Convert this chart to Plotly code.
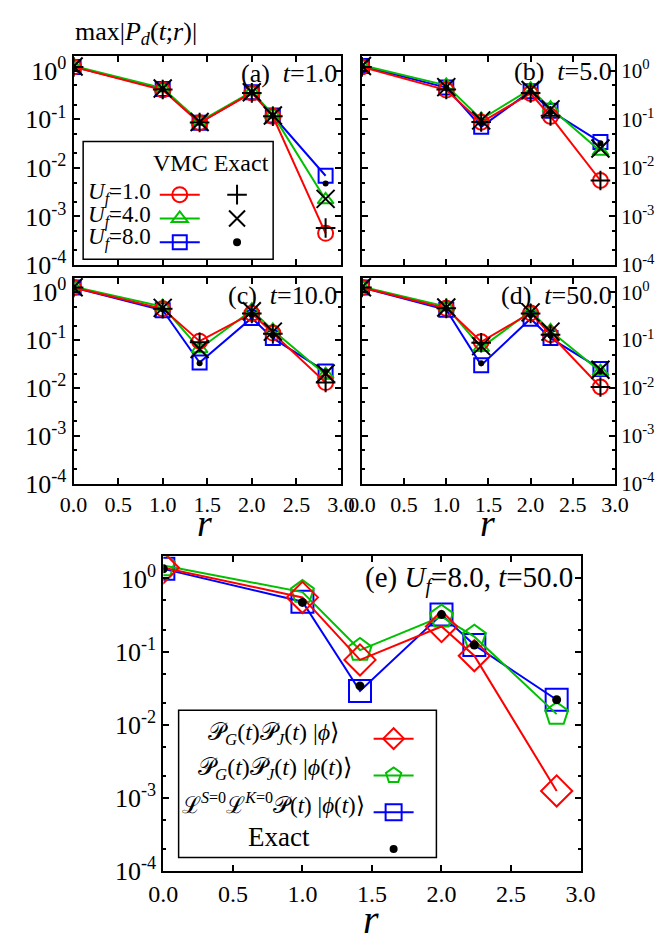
import plotly.graph_objects as go

# distances r
r = [0.0, 1.0, 1.414, 2.0, 2.236, 2.828]

# (a) t=1.0
a_vmc_u1 = [1.2, 0.40, 0.085, 0.35, 0.115, 0.00045]
a_vmc_u4 = [1.25, 0.44, 0.09, 0.37, 0.125, 0.0022]
a_vmc_u8 = [1.2, 0.42, 0.085, 0.36, 0.12, 0.0069]
a_ex_u1 = [1.2, 0.41, 0.086, 0.35, 0.116, 0.00058]
a_ex_u4 = [1.22, 0.43, 0.088, 0.36, 0.12, 0.0023]
a_ex_u8 = [1.2, 0.42, 0.086, 0.36, 0.12, 0.0048]
# (b) t=5.0
b_vmc_u1 = [1.2, 0.40, 0.087, 0.34, 0.115, 0.0055]
b_vmc_u4 = [1.3, 0.50, 0.10, 0.42, 0.17, 0.022]
b_vmc_u8 = [1.25, 0.45, 0.07, 0.38, 0.15, 0.034]
b_ex_u1 = [1.2, 0.41, 0.088, 0.35, 0.118, 0.0055]
b_ex_u4 = [1.25, 0.46, 0.095, 0.40, 0.16, 0.025]
b_ex_u8 = [1.22, 0.44, 0.085, 0.37, 0.14, 0.032]
# (c) t=10.0
c_vmc_u1 = [1.25, 0.45, 0.095, 0.36, 0.14, 0.013]
c_vmc_u4 = [1.3, 0.50, 0.066, 0.42, 0.16, 0.019]
c_vmc_u8 = [1.25, 0.42, 0.034, 0.29, 0.11, 0.022]
c_ex_u1 = [1.25, 0.45, 0.09, 0.36, 0.135, 0.013]
c_ex_u4 = [1.27, 0.47, 0.065, 0.40, 0.15, 0.020]
c_ex_u8 = [1.25, 0.44, 0.033, 0.33, 0.125, 0.022]
# (d) t=50.0
d_vmc_u1 = [1.25, 0.46, 0.092, 0.37, 0.13, 0.0105]
d_vmc_u4 = [1.3, 0.50, 0.07, 0.40, 0.155, 0.022]
d_vmc_u8 = [1.25, 0.43, 0.030, 0.28, 0.11, 0.025]
d_ex_u1 = [1.25, 0.46, 0.088, 0.36, 0.13, 0.0105]
d_ex_u4 = [1.27, 0.48, 0.075, 0.38, 0.15, 0.024]
d_ex_u8 = [1.25, 0.45, 0.033, 0.33, 0.125, 0.022]
# (e) Uf=8.0, t=50.0
e_pgpj_phi = [1.4, 0.55, 0.077, 0.22, 0.088, 0.00125]
e_pgpj_phit = [1.5, 0.65, 0.105, 0.30, 0.16, 0.014]
e_lsk_phit = [1.35, 0.48, 0.029, 0.32, 0.123, 0.022]
e_exact = [1.35, 0.47, 0.034, 0.32, 0.123, 0.022]

ytick_vals = [1e-4, 1e-3, 1e-2, 1e-1, 1]
ytick_text = ["10<sup>-4</sup>", "10<sup>-3</sup>", "10<sup>-2</sup>", "10<sup>-1</sup>", "10<sup>0</sup>"]
xtick_vals = [0.0, 0.5, 1.0, 1.5, 2.0, 2.5, 3.0]
xtick_text = ["0.0", "0.5", "1.0", "1.5", "2.0", "2.5", "3.0"]

RED, GREEN, BLUE = "#ff0000", "#00c000", "#0000ff"
FONT = "Liberation Serif"
W, H = 663, 941

def px_x(a, b):
    return [a / W, b / W]

def px_y(top, bot):
    return [1 - bot / H, 1 - top / H]

fig = go.Figure()

panels = [
    ("x", "y", (a_vmc_u1, a_vmc_u4, a_vmc_u8, a_ex_u1, a_ex_u4, a_ex_u8)),
    ("x2", "y2", (b_vmc_u1, b_vmc_u4, b_vmc_u8, b_ex_u1, b_ex_u4, b_ex_u8)),
    ("x3", "y3", (c_vmc_u1, c_vmc_u4, c_vmc_u8, c_ex_u1, c_ex_u4, c_ex_u8)),
    ("x4", "y4", (d_vmc_u1, d_vmc_u4, d_vmc_u8, d_ex_u1, d_ex_u4, d_ex_u8)),
]

for i, (xa, ya, (u1, u4, u8, e1, e4, e8)) in enumerate(panels):
    fig.add_trace(go.Scatter(x=r, y=u8, xaxis=xa, yaxis=ya, mode="lines+markers",
                             line=dict(color=BLUE, width=2),
                             marker=dict(symbol="square-open", size=14, color=BLUE, line=dict(width=2)),
                             showlegend=False))
    fig.add_trace(go.Scatter(x=r, y=u4, xaxis=xa, yaxis=ya, mode="lines+markers",
                             line=dict(color=GREEN, width=2),
                             marker=dict(symbol="triangle-up-open", size=14, color=GREEN, line=dict(width=2)),
                             showlegend=False))
    fig.add_trace(go.Scatter(x=r, y=u1, xaxis=xa, yaxis=ya, mode="lines+markers",
                             line=dict(color=RED, width=2),
                             marker=dict(symbol="circle-open", size=15, color=RED, line=dict(width=2)),
                             showlegend=False))
    fig.add_trace(go.Scatter(x=r, y=e1, xaxis=xa, yaxis=ya, mode="markers",
                             marker=dict(symbol="cross-thin-open", size=14, color="black", line=dict(width=2, color="black")),
                             showlegend=False))
    fig.add_trace(go.Scatter(x=r, y=e4, xaxis=xa, yaxis=ya, mode="markers",
                             marker=dict(symbol="x-thin-open", size=18, color="black", line=dict(width=2, color="black")),
                             showlegend=False))
    fig.add_trace(go.Scatter(x=r, y=e8, xaxis=xa, yaxis=ya, mode="markers",
                             marker=dict(symbol="circle", size=6, color="black"),
                             showlegend=False))

# legend samples for panel (a)
for sym, col, sz in [("circle-open", RED, 15), ("triangle-up-open", GREEN, 14), ("square-open", BLUE, 14)]:
    fig.add_trace(go.Scatter(x=[None], y=[None], xaxis="x", yaxis="y", mode="lines+markers",
                             line=dict(color=col, width=2),
                             marker=dict(symbol=sym, size=sz, color=col, line=dict(width=2)),
                             name=" ", legend="legend", showlegend=True))
for sym, sz in [("cross-thin-open", 14), ("x-thin-open", 16), ("circle", 6)]:
    fig.add_trace(go.Scatter(x=[None], y=[None], xaxis="x", yaxis="y", mode="markers",
                             marker=dict(symbol=sym, size=sz, color="black", line=dict(width=2, color="black")),
                             name=" ", legend="legend2", showlegend=True))

# panel (e)
for data, sym, col, sz in [(e_lsk_phit, "square-open", BLUE, 22), (e_pgpj_phit, "pentagon-open", GREEN, 24),
                           (e_pgpj_phi, "diamond-open", RED, 24)]:
    fig.add_trace(go.Scatter(x=r, y=data, xaxis="x5", yaxis="y5", mode="lines+markers",
                             line=dict(color=col, width=2),
                             marker=dict(symbol=sym, size=sz, color=col, line=dict(width=2)),
                             showlegend=False))
fig.add_trace(go.Scatter(x=r, y=e_exact, xaxis="x5", yaxis="y5", mode="markers",
                         marker=dict(symbol="circle", size=9, color="black"), showlegend=False))
for sym, col, sz in [("diamond-open", RED, 16), ("pentagon-open", GREEN, 16), ("square-open", BLUE, 16)]:
    fig.add_trace(go.Scatter(x=[None], y=[None], xaxis="x5", yaxis="y5", mode="lines+markers",
                             line=dict(color=col, width=2),
                             marker=dict(symbol=sym, size=sz, color=col, line=dict(width=2)),
                             name=" ", legend="legend3", showlegend=True))
fig.add_trace(go.Scatter(x=[None], y=[None], xaxis="x5", yaxis="y5", mode="markers",
                         marker=dict(symbol="circle", size=8, color="black"),
                         name=" ", legend="legend3", showlegend=True))

def xax(dom, anchor, labels, size=22):
    return dict(domain=dom, anchor=anchor, range=[0, 3], tickvals=xtick_vals, ticktext=xtick_text,
                showticklabels=labels, ticks="inside", ticklen=6, tickwidth=1.5, tickcolor="black",
                showline=True, linewidth=2, linecolor="black", mirror="ticks", showgrid=False,
                zeroline=False, tickfont=dict(family=FONT, size=size, color="black"))

def yax(dom, anchor, side, size=26):
    return dict(domain=dom, anchor=anchor, type="log", range=[-4, 0.301], tickvals=ytick_vals,
                ticktext=ytick_text, side=side, ticks="inside", ticklen=6, tickwidth=1.5, tickcolor="black",
                minor=dict(ticks="inside", ticklen=3, tickcolor="black", dtick="D2", showgrid=False),
                showline=True, linewidth=2, linecolor="black", mirror="ticks", showgrid=False,
                zeroline=False, tickfont=dict(family=FONT, size=size, color="black"))

xa_dom = px_x(53, 333)
xb_dom = px_x(355, 620)
top_dom = px_y(46, 259)
bot_dom = px_y(272, 482)

fig.update_layout(
    width=W, height=H, margin=dict(l=0, r=0, t=0, b=0),
    paper_bgcolor="white", plot_bgcolor="white",
    font=dict(family=FONT, color="black"),
    xaxis=xax(xa_dom, "y", False), yaxis=yax(top_dom, "x", "left"),
    xaxis2=xax(xb_dom, "y2", False), yaxis2=yax(top_dom, "x2", "right", 21),
    xaxis3=xax(xa_dom, "y3", True), yaxis3=yax(bot_dom, "x3", "left"),
    xaxis4=xax(xb_dom, "y4", True), yaxis4=yax(bot_dom, "x4", "right", 21),
    xaxis5=xax(px_x(147, 584), "y5", True, 24), yaxis5=yax(px_y(556, 877), "x5", "left"),
    legend=dict(x=138 / W, y=1 - 170 / H, xanchor="left", yanchor="top", bgcolor="rgba(0,0,0,0)",
                font=dict(size=16), tracegroupgap=0, itemwidth=40),
    legend2=dict(x=198 / W, y=1 - 170 / H, xanchor="left", yanchor="top", bgcolor="rgba(0,0,0,0)",
                 font=dict(size=16), tracegroupgap=0, itemwidth=40),
    legend3=dict(x=362 / W, y=1 - 718 / H, xanchor="left", yanchor="top", bgcolor="rgba(0,0,0,0)",
                 font=dict(size=26), tracegroupgap=0, itemwidth=40),
)

shapes = [
    dict(type="rect", xref="paper", yref="paper", x0=63 / W, x1=262 / W, y0=1 - 253 / H, y1=1 - 133 / H,
         line=dict(color="black", width=1.5), fillcolor="white", layer="below"),
    dict(type="rect", xref="paper", yref="paper", x0=163 / W, x1=433 / W, y0=1 - 863 / H, y1=1 - 713 / H,
         line=dict(color="black", width=1.5), fillcolor="white", layer="below"),
]
fig.update_layout(shapes=shapes)

def ann(text, x, y, size, xanchor="center", yanchor="middle"):
    return dict(text=text, x=x / W, y=1 - y / H, xref="paper", yref="paper", showarrow=False,
                xanchor=xanchor, yanchor=yanchor, font=dict(family=FONT, size=size, color="black"))

annotations = [
    ann("max|<i>P<sub>d</sub></i>(<i>t</i>;<i>r</i>)|", 52, 22, 26, "left"),
    ann("(a)  <i>t</i>=1.0", 331, 64, 26, "right"),
    ann("(b)  <i>t</i>=5.0", 619, 62, 26, "right"),
    ann("(c)  <i>t</i>=10.0", 331, 290, 26, "right"),
    ann("(d)  <i>t</i>=50.0", 619, 290, 26, "right"),
    ann("(e) <i>U<sub>f</sub></i>=8.0, <i>t</i>=50.0", 578, 580, 29, "right"),
    ann("<i>r</i>", 190, 522, 38),
    ann("<i>r</i>", 486, 522, 38),
    ann("<i>r</i>", 365, 926, 40),
    ann("VMC Exact", 197, 155, 24),
    ann("<i>U<sub>f</sub></i>=1.0", 66, 186, 23, "left"),
    ann("<i>U<sub>f</sub></i>=4.0", 66, 209, 23, "left"),
    ann("<i>U<sub>f</sub></i>=8.0", 66, 232, 23, "left"),
    ann("𝒫<sub><i>G</i></sub>(<i>t</i>)𝒫<sub><i>J</i></sub>(<i>t</i>) |<i>ϕ</i>⟩", 262, 737, 24),
    ann("𝒫<sub><i>G</i></sub>(<i>t</i>)𝒫<sub><i>J</i></sub>(<i>t</i>) |<i>ϕ</i>(<i>t</i>)⟩", 264, 773, 24),
    ann("ℒ<sup><i>S</i>=0</sup>ℒ<sup><i>K</i>=0</sup>𝒫(<i>t</i>) |<i>ϕ</i>(<i>t</i>)⟩", 262, 808, 23),
    ann("Exact", 268, 842, 27),
]
fig.update_layout(annotations=annotations)

fig.write_html("out.html")
